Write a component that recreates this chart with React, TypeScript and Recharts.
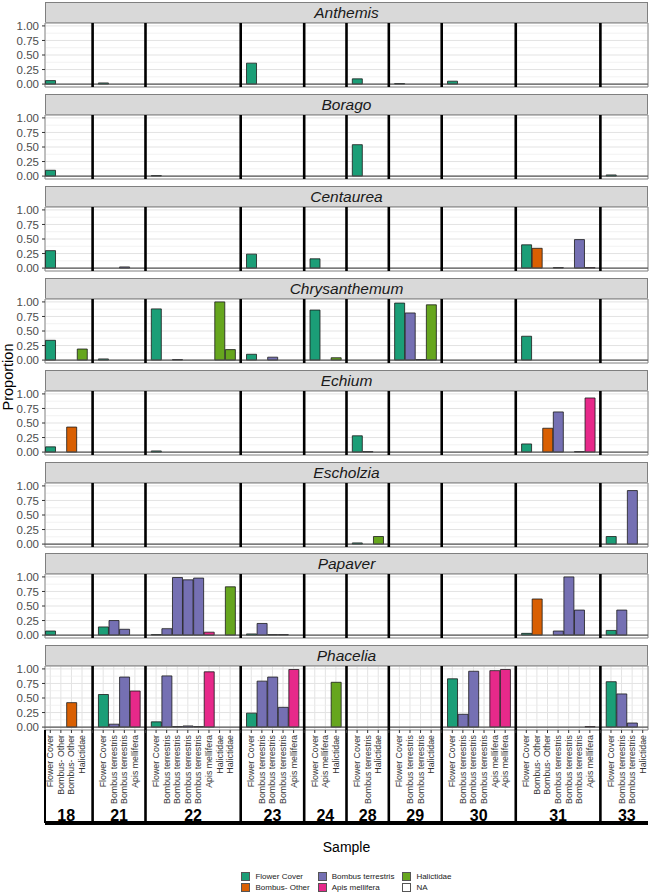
import React from 'react';
import {
  BarChart,
  Bar,
  XAxis,
  YAxis,
  CartesianGrid,
  Cell,
  ReferenceLine,
  ReferenceArea
} from 'recharts';

const FC = 'Flower Cover';
const BO = 'Bombus- Other';
const BT = 'Bombus terrestris';
const AM = 'Apis mellifera';
const HA = 'Halictidae';

const samples = ['18', '21', '22', '23', '24', '28', '29', '30', '31', '33'];

// visitor order inside each sample column
const sampleSlots: string[][] = [
  [FC, BO, BO, HA],
  [FC, BT, BT, AM],
  [FC, BT, BT, BT, BT, AM, HA, HA],
  [FC, BT, BT, BT, AM],
  [FC, AM, HA],
  [FC, BT, HA],
  [FC, BT, BT, HA],
  [FC, BT, BT, BT, AM, AM],
  [FC, BO, BO, BT, BT, BT, AM],
  [FC, BT, BT, HA],
];

const legendNames = [FC, BO, BT, AM, HA, 'NA'];
const legendColors = ['#1B9E77', '#D95F02', '#7570B3', '#E7298A', '#66A61E', '#FFFFFF'];

const plants = ['Anthemis', 'Borago', 'Centaurea', 'Chrysanthemum', 'Echium', 'Escholzia', 'Papaver', 'Phacelia'];

// proportions per sample, same order as sampleSlots
const anthemis = [
  [0.06, 0, 0, 0], [0.02, 0, 0, 0], [0, 0, 0, 0, 0, 0, 0, 0], [0.36, 0, 0, 0, 0], [0, 0, 0],
  [0.09, 0, 0], [0.01, 0, 0, 0], [0.05, 0, 0, 0, 0, 0], [0, 0, 0, 0, 0, 0, 0], [0, 0, 0, 0],
];
const borago = [
  [0.1, 0, 0, 0], [0, 0, 0, 0], [0.01, 0, 0, 0, 0, 0, 0, 0], [0, 0, 0, 0, 0], [0, 0, 0],
  [0.54, 0, 0], [0, 0, 0, 0], [0, 0, 0, 0, 0, 0], [0, 0, 0, 0, 0, 0, 0], [0.02, 0, 0, 0],
];
const centaurea = [
  [0.3, 0, 0, 0], [0, 0, 0.02, 0], [0, 0, 0, 0, 0, 0, 0, 0], [0.24, 0, 0, 0, 0], [0.16, 0, 0],
  [0, 0, 0], [0, 0, 0, 0], [0, 0, 0, 0, 0, 0], [0.4, 0.34, 0, 0.01, 0, 0.49, 0.01], [0, 0, 0, 0],
];
const chrysanthemum = [
  [0.34, 0, 0, 0.19], [0.02, 0, 0, 0], [0.88, 0, 0.01, 0, 0, 0, 1.0, 0.18], [0.1, 0, 0.05, 0, 0], [0.86, 0, 0.04],
  [0, 0, 0], [0.98, 0.81, 0.01, 0.95], [0, 0, 0, 0, 0, 0], [0.41, 0, 0, 0, 0, 0, 0], [0, 0, 0, 0],
];
const echium = [
  [0.09, 0, 0.43, 0], [0, 0, 0, 0], [0.02, 0, 0, 0, 0, 0, 0, 0], [0, 0, 0, 0, 0], [0, 0, 0],
  [0.28, 0.01, 0], [0, 0, 0, 0], [0, 0, 0, 0, 0, 0], [0.14, 0, 0.41, 0.69, 0, 0.01, 0.93], [0, 0, 0, 0],
];
const escholzia = [
  [0, 0, 0, 0], [0, 0, 0, 0], [0, 0, 0, 0, 0, 0, 0, 0], [0, 0, 0, 0, 0], [0, 0, 0],
  [0.02, 0, 0.13], [0, 0, 0, 0], [0, 0, 0, 0, 0, 0], [0, 0, 0, 0, 0, 0, 0], [0.13, 0, 0.92, 0],
];
const papaver = [
  [0.07, 0, 0, 0], [0.14, 0.25, 0.1, 0], [0.01, 0.11, 0.99, 0.95, 0.98, 0.05, 0, 0.83], [0.02, 0.2, 0.01, 0.01, 0], [0, 0, 0],
  [0, 0, 0], [0, 0, 0, 0], [0, 0, 0, 0, 0, 0], [0.03, 0.62, 0, 0.07, 1.0, 0.43, 0], [0.08, 0.43, 0, 0],
];
const phacelia = [
  [0, 0, 0.42, 0], [0.56, 0.05, 0.86, 0.62], [0.09, 0.88, 0.01, 0.02, 0.01, 0.95, 0, 0], [0.24, 0.79, 0.86, 0.34, 0.99], [0, 0, 0.77],
  [0, 0, 0], [0, 0, 0, 0], [0.83, 0.22, 0.96, 0, 0.97, 0.99], [0, 0, 0, 0, 0, 0, 0.01], [0.78, 0.57, 0.07, 0],
];

const plantValues = [anthemis, borago, centaurea, chrysanthemum, echium, escholzia, papaver, phacelia];

const FONT = '"Liberation Sans", Arial, sans-serif';
const W = 650;
const Y_AXIS_W = 45;
const RIGHT = 2;
const ROW_STEP = 91.9;
const STRIP_H = 21;
const PANEL_H = 64;
const PAD = 7; // svg room so the 1.00 / 0.00 labels are not clipped
const AXIS_H = 93;

const colorOf = (t: string | null) => (t ? legendColors[legendNames.indexOf(t)] : 'none');

// one empty category between samples; the sample number sits on the middle slot
const buildData = (vals: number[][]) => {
  const out: any[] = [];
  sampleSlots.forEach((slots, g) => {
    if (g > 0) out.push({ key: `gap${g}`, label: '', type: null, value: null });
    slots.forEach((t, i) => out.push({
      key: `${samples[g]}-${i}`,
      label: t,
      type: t,
      value: vals[g][i],
      sample: i === Math.floor(slots.length / 2) ? samples[g] : '',
      even: slots.length % 2 === 0,
    }));
  });
  return out;
};

const layout = buildData(anthemis);
const byKey: Record<string, any> = {};
layout.forEach((d) => { byKey[d.key] = d; });
const firstKey = layout[0].key;
const lastKey = layout[layout.length - 1].key;
const gapKeys = layout.filter((d) => d.type === null).map((d) => d.key);

const unitPx = PANEL_H / 1.1;
const yBottom = -0.05 - AXIS_H / unitPx;

const AxisTick = (props: any) => {
  const { x, y, payload } = props;
  const d = byKey[payload.value];
  if (!d) return null;
  const half = payload.offset ?? 5.29;
  return (
    <g>
      <text x={x} y={y} transform={`rotate(-90, ${x}, ${y})`} textAnchor="end" dy="0.34em"
        fontSize={8.8} fill="#333" fontFamily={FONT}>
        {d.label}
      </text>
      {d.sample && (
        <text x={d.even ? x - half : x} y={y} dy={85.5} textAnchor="middle" fontSize={16}
          fontWeight="bold" fill="#000" fontFamily={FONT}>
          {d.sample}
        </text>
      )}
    </g>
  );
};

const PlantRow = ({ plant, values, index }: { plant: string; values: number[][]; index: number }) => {
  const last = index === plants.length - 1;
  const top = Math.round(2 + index * ROW_STEP);
  const data = buildData(values);
  const height = PAD + PANEL_H + (last ? AXIS_H + 4 : PAD);
  const lineBottom = last ? yBottom : -0.05;
  return (
    <>
      <div style={{
        position: 'absolute', top, left: Y_AXIS_W, width: W - Y_AXIS_W - RIGHT, height: STRIP_H,
        boxSizing: 'border-box', background: '#D9D9D9', border: '1px solid #7F7F7F',
        fontFamily: FONT, fontStyle: 'italic', fontSize: 15.5, color: '#1A1A1A',
        display: 'flex', alignItems: 'center', justifyContent: 'center'
      }}>{plant}</div>
      <div style={{ position: 'absolute', top: top + STRIP_H - PAD, left: 0 }}>
        <BarChart width={W} height={height} data={data} barCategoryGap="5%"
          margin={{ top: PAD, right: RIGHT, bottom: last ? 4 : PAD, left: 0 }}>
          <CartesianGrid stroke="#E3E3E3" strokeWidth={1} />
          <CartesianGrid stroke="#EDEDED" strokeWidth={0.7} vertical={false}
            horizontalValues={[0.125, 0.375, 0.625, 0.875]} />
          <XAxis dataKey="key" type="category" interval={0} hide={!last} height={AXIS_H}
            tick={last ? <AxisTick /> : false} tickSize={3} tickMargin={2}
            tickLine={{ stroke: '#333' }} axisLine={false} />
          <YAxis width={Y_AXIS_W} domain={[-0.05, 1.05]} allowDataOverflow ticks={[0, 0.25, 0.5, 0.75, 1]}
            interval={0} tickFormatter={(v: number) => v.toFixed(2)} tickSize={3} tickMargin={3}
            tick={{ fontSize: 11.5, fill: '#4D4D4D', fontFamily: FONT }} tickLine={{ stroke: '#333' }}
            axisLine={false} />
          <ReferenceArea x1={firstKey} x2={lastKey} y1={-0.05} y2={1.05} fill="none"
            stroke="#8C8C8C" strokeWidth={1} ifOverflow="visible" />
          <ReferenceLine y={0} stroke="#555" strokeWidth={1.3} />
          <Bar dataKey="value" stroke="#1A1A1A" strokeWidth={0.8} isAnimationActive={false}>
            {data.map((d) => (
              <Cell key={d.key} fill={colorOf(d.type)} />
            ))}
          </Bar>
          {gapKeys.map((k) => (
            <ReferenceLine key={k} position="middle" segment={[{ x: k, y: 1.05 }, { x: k, y: lineBottom }]}
              stroke="#000" strokeWidth={2.6} ifOverflow="visible" />
          ))}
          {last && (
            <ReferenceLine position="start" segment={[{ x: firstKey, y: -0.05 }, { x: firstKey, y: yBottom }]}
              stroke="#000" strokeWidth={2} ifOverflow="visible" />
          )}
          {last && (
            <ReferenceArea x1={firstKey} x2={lastKey} y1={yBottom + 2 / unitPx} y2={yBottom - 2 / unitPx}
              fill="#000" fillOpacity={1} stroke="none" ifOverflow="visible" />
          )}
        </BarChart>
      </div>
    </>
  );
};

const Legend = () => (
  <div style={{
    position: 'absolute', top: 871.5, left: Y_AXIS_W, width: W - Y_AXIS_W - RIGHT,
    display: 'flex', justifyContent: 'center', fontFamily: FONT, fontSize: 8, color: '#1A1A1A'
  }}>
    <div style={{ display: 'grid', gridAutoFlow: 'column', gridTemplateRows: 'repeat(2, 10.7px)', columnGap: 8 }}>
      {legendNames.map((n, i) => (
        <div key={n} style={{ display: 'flex', alignItems: 'center', gap: 5 }}>
          <span style={{
            width: 9, height: 9, boxSizing: 'border-box', background: legendColors[i],
            border: '1px solid #555', display: 'inline-block'
          }} />
          <span>{n}</span>
        </div>
      ))}
    </div>
  </div>
);

export default function App() {
  return (
    <div style={{ position: 'absolute', left: 0, top: 0, width: W, height: 894, background: '#fff' }}>
      <svg width={W} height={894} style={{ position: 'absolute', left: 0, top: 0 }}>
        <text x={12.5} y={377} transform="rotate(-90, 12.5, 377)" textAnchor="middle" fontSize={14.5}
          fontFamily={FONT} fill="#000">Proportion</text>
        <text x={346.5} y={851.5} textAnchor="middle" fontSize={14} fontFamily={FONT} fill="#000">Sample</text>
      </svg>
      {plants.map((p, i) => (
        <PlantRow key={p} plant={p} values={plantValues[i]} index={i} />
      ))}
      <Legend />
    </div>
  );
}
